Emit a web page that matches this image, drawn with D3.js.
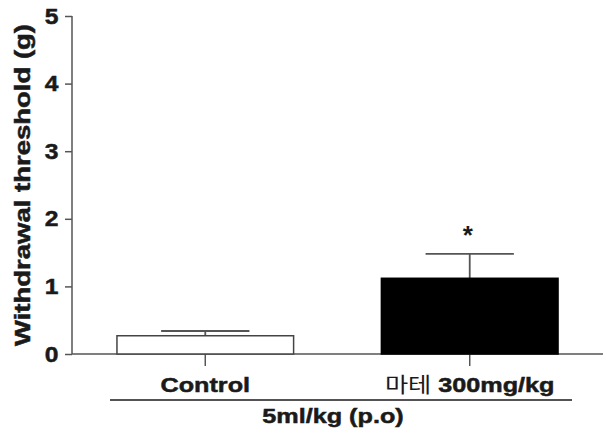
<!DOCTYPE html>
<html><head><meta charset="utf-8">
<script src="https://cdn.jsdelivr.net/npm/d3@7"></script>
<style>body{margin:0;background:#fff}svg{display:block}text{font-family:"Liberation Sans",Arial,sans-serif;font-weight:bold}</style>
</head><body>
<script>
const categories = ["Control", "마테 300mg/kg"];
const means = [0.27, 1.12];
const errors = [0.07, 0.36];
const fills = ["#ffffff", "#000000"];
const yTicks = [0, 1, 2, 3, 4, 5];
const significance = ["", "*"];
const groupLabel = "5ml/kg (p.o)";
const yTitle = "Withdrawal threshold (g)";

const W = 603, H = 434;
const svg = d3.select("body").append("svg").attr("width", W).attr("height", H);
const axisX = 72;
const y = d3.scaleLinear().domain([0, 5]).range([354, 16]);
const x = d3.scaleBand().domain(categories).range([72, 603]).paddingInner(0.332).paddingOuter(0.17);
const stretch = 1.2;
const ink = "#1a1a1a";
const heavy = sel => sel.attr("stroke", ink).attr("stroke-width", 0.5);

const axisColor = "#555";
// y axis
const ya = svg.append("g").attr("transform", `translate(${axisX},0)`)
  .call(d3.axisLeft(y).tickValues(yTicks).tickSize(7).tickPadding(5).tickFormat(d3.format("d")));
ya.selectAll("path").attr("stroke", axisColor).attr("stroke-width", 1.5).attr("d", `M0,${y(5)}V${y(0)}`);
ya.selectAll("line").attr("stroke", axisColor).attr("stroke-width", 1.5);
ya.selectAll("text").attr("font-size", 22).attr("fill", ink).style("font-weight", "bold")
  .attr("transform", "scale(1.12,1)").call(heavy);

// x axis
const xa = svg.append("g").attr("transform", `translate(0,${y(0)})`)
  .call(d3.axisBottom(x).tickSize(12).tickPadding(8));
xa.selectAll("path").attr("stroke", axisColor).attr("stroke-width", 1.5).attr("d", `M${axisX},0H${W}`);
xa.selectAll("line").attr("stroke", axisColor).attr("stroke-width", 1.5);
xa.selectAll("text").attr("font-size", 21).attr("fill", ink).attr("dy", "0.85em").style("font-weight", "bold")
  .attr("transform", `scale(${stretch},1)`)
  .each(function(d) {
    const t = d3.select(this);
    const m = d.match(/^([\u3131-\uD79D]+)(\s.*)$/);
    if (m) {
      t.text(null);
      t.append("tspan").style("font-weight", "normal").attr("font-family", "'Noto Sans CJK KR', sans-serif").attr("stroke-width", 0).text(m[1]);
      t.append("tspan").text(m[2]);
    }
  }).call(heavy);

const data = categories.map((c, i) => ({c, m: means[i], e: errors[i], f: fills[i], s: significance[i]}));

// error bars (drawn before bars)
const capW = x.bandwidth() * 0.5;
data.forEach(d => {
  const cx = x(d.c) + x.bandwidth() / 2;
  svg.append("line").attr("x1", cx).attr("x2", cx).attr("y1", y(d.m)).attr("y2", y(d.m + d.e))
    .attr("stroke", axisColor).attr("stroke-width", 1.8);
  svg.append("line").attr("x1", cx - capW / 2).attr("x2", cx + capW / 2).attr("y1", y(d.m + d.e)).attr("y2", y(d.m + d.e))
    .attr("stroke", axisColor).attr("stroke-width", 1.8);
});

svg.selectAll("rect.bar").data(data).join("rect").attr("class", "bar")
  .attr("x", d => x(d.c)).attr("width", x.bandwidth())
  .attr("y", d => y(d.m)).attr("height", d => y(0) - y(d.m))
  .attr("fill", d => d.f).attr("stroke", d => d.f === "#000000" ? "#000" : "#444").attr("stroke-width", 1.5);

svg.selectAll("text.sig").data(data).join("text").attr("class", "sig")
  .attr("x", d => x(d.c) + x.bandwidth() / 2 - 2).attr("y", d => y(d.m + d.e) - 10)
  .attr("text-anchor", "middle").attr("font-size", 26).attr("fill", ink).text(d => d.s);

// group line and label
svg.append("line").attr("x1", 110).attr("x2", 572).attr("y1", 400).attr("y2", 400).attr("stroke", ink).attr("stroke-width", 1.5);
svg.append("text").attr("transform", `translate(333,423) scale(${stretch},1)`).attr("text-anchor", "middle")
  .attr("font-size", 21).attr("fill", ink).text(groupLabel).call(heavy);

svg.append("text").attr("transform", `translate(30,${(y(0) + y(5)) / 2}) rotate(-90) scale(1.25,1)`)
  .attr("text-anchor", "middle").attr("font-size", 22).attr("fill", ink).text(yTitle).call(heavy);
</script>
</body></html>
